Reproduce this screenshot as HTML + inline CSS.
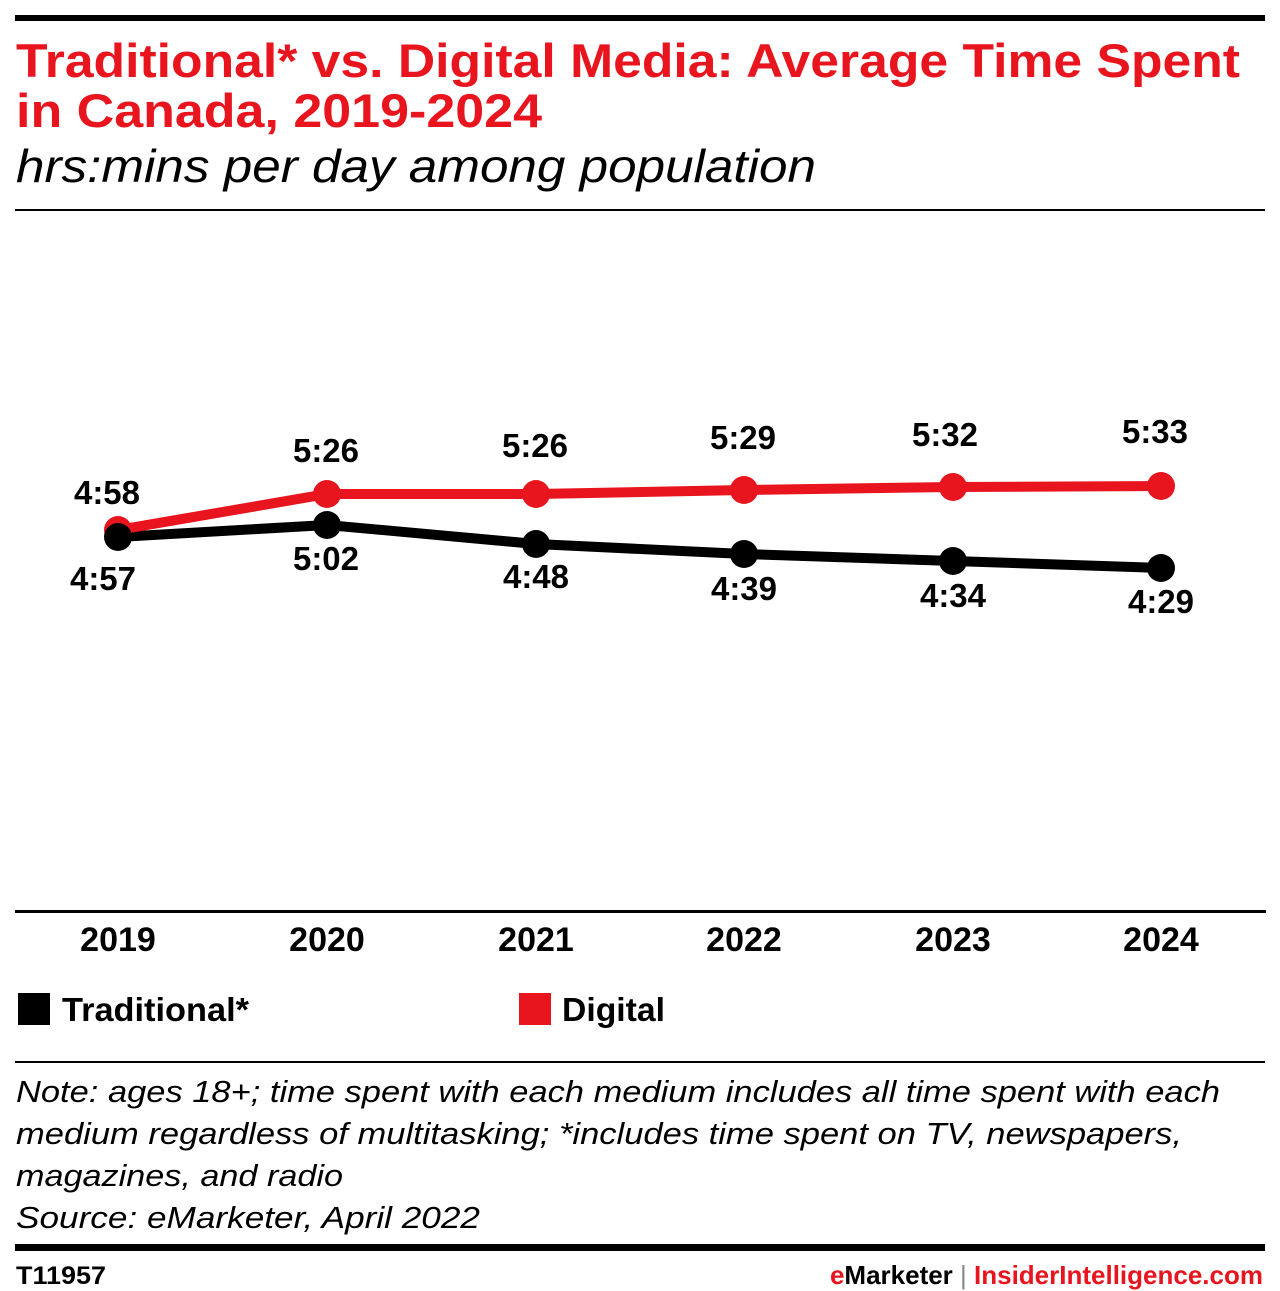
<!DOCTYPE html>
<html><head><meta charset="utf-8"><style>
html,body{margin:0;padding:0;background:#fff;}
svg{display:block;}
text{font-family:"Liberation Sans",sans-serif;}
</style></head><body>
<svg width="1280" height="1291" viewBox="0 0 1280 1291">
<rect x="15" y="15" width="1250" height="6" fill="#000"/>
<text x="16" y="77" font-size="47" font-weight="bold" fill="#e8141e" textLength="1224" lengthAdjust="spacingAndGlyphs">Traditional* vs. Digital Media: Average Time Spent</text>
<text x="16" y="127" font-size="47" font-weight="bold" fill="#e8141e" textLength="526" lengthAdjust="spacingAndGlyphs">in Canada, 2019-2024</text>
<text x="16" y="182" font-size="46" font-style="italic" fill="#000" textLength="800" lengthAdjust="spacingAndGlyphs">hrs:mins per day among population</text>
<rect x="15" y="209" width="1250" height="2" fill="#000"/>

<polyline points="118,537 327,525 536,544 744,554 953,561 1161,568" fill="none" stroke="#000" stroke-width="10"/>
<polyline points="118,530 327,494 536,494 744,490 953,487 1161,486" fill="none" stroke="#e8141e" stroke-width="10"/>
<g fill="#e8141e"><circle cx="118" cy="530" r="14"/><circle cx="327" cy="494" r="14"/><circle cx="536" cy="494" r="14"/><circle cx="744" cy="490" r="14"/><circle cx="953" cy="487" r="14"/><circle cx="1161" cy="486" r="14"/></g>
<g fill="#000"><circle cx="118" cy="537" r="14"/><circle cx="327" cy="525" r="14"/><circle cx="536" cy="544" r="14"/><circle cx="744" cy="554" r="14"/><circle cx="953" cy="561" r="14"/><circle cx="1161" cy="568" r="14"/></g>
<g font-size="33" font-weight="bold" text-anchor="middle" fill="#000">
<text x="107" y="504">4:58</text><text x="326" y="462">5:26</text><text x="535" y="457">5:26</text><text x="743" y="449">5:29</text><text x="945" y="446">5:32</text><text x="1155" y="443">5:33</text>
<text x="103" y="590">4:57</text><text x="326" y="570">5:02</text><text x="536" y="588">4:48</text><text x="744" y="600">4:39</text><text x="953" y="607">4:34</text><text x="1161" y="613">4:29</text>
</g>
<rect x="15" y="910" width="1251" height="3" fill="#000"/>
<g font-size="34" font-weight="bold" text-anchor="middle" fill="#000">
<text x="118" y="951">2019</text><text x="327" y="951">2020</text><text x="536" y="951">2021</text><text x="744" y="951">2022</text><text x="953" y="951">2023</text><text x="1161" y="951">2024</text>
</g>
<rect x="18" y="993" width="32" height="32" fill="#000"/>
<text x="62" y="1021" font-size="33" font-weight="bold" textLength="187" lengthAdjust="spacingAndGlyphs">Traditional*</text>
<rect x="519" y="993" width="32" height="32" fill="#e8141e"/>
<text x="562" y="1021" font-size="33" font-weight="bold" textLength="103" lengthAdjust="spacingAndGlyphs">Digital</text>
<rect x="15" y="1061" width="1250" height="2" fill="#000"/>
<g font-size="31" font-style="italic" fill="#000">
<text x="16" y="1102" textLength="1204" lengthAdjust="spacingAndGlyphs">Note: ages 18+; time spent with each medium includes all time spent with each</text>
<text x="16" y="1144" textLength="1166" lengthAdjust="spacingAndGlyphs">medium regardless of multitasking; *includes time spent on TV, newspapers,</text>
<text x="16" y="1186" textLength="327" lengthAdjust="spacingAndGlyphs">magazines, and radio</text>
<text x="16" y="1228" textLength="464" lengthAdjust="spacingAndGlyphs">Source: eMarketer, April 2022</text>
</g>
<rect x="15" y="1244" width="1250" height="7" fill="#000"/>
<text x="16" y="1284" font-size="25" font-weight="bold" fill="#000" textLength="90" lengthAdjust="spacingAndGlyphs">T11957</text>
<text x="1263" y="1284" font-size="26" font-weight="bold" text-anchor="end"><tspan fill="#e8141e">e</tspan><tspan fill="#000">Marketer </tspan><tspan fill="#888" font-weight="normal">| </tspan><tspan fill="#e8141e">InsiderIntelligence.com</tspan></text>
</svg>
</body></html>
